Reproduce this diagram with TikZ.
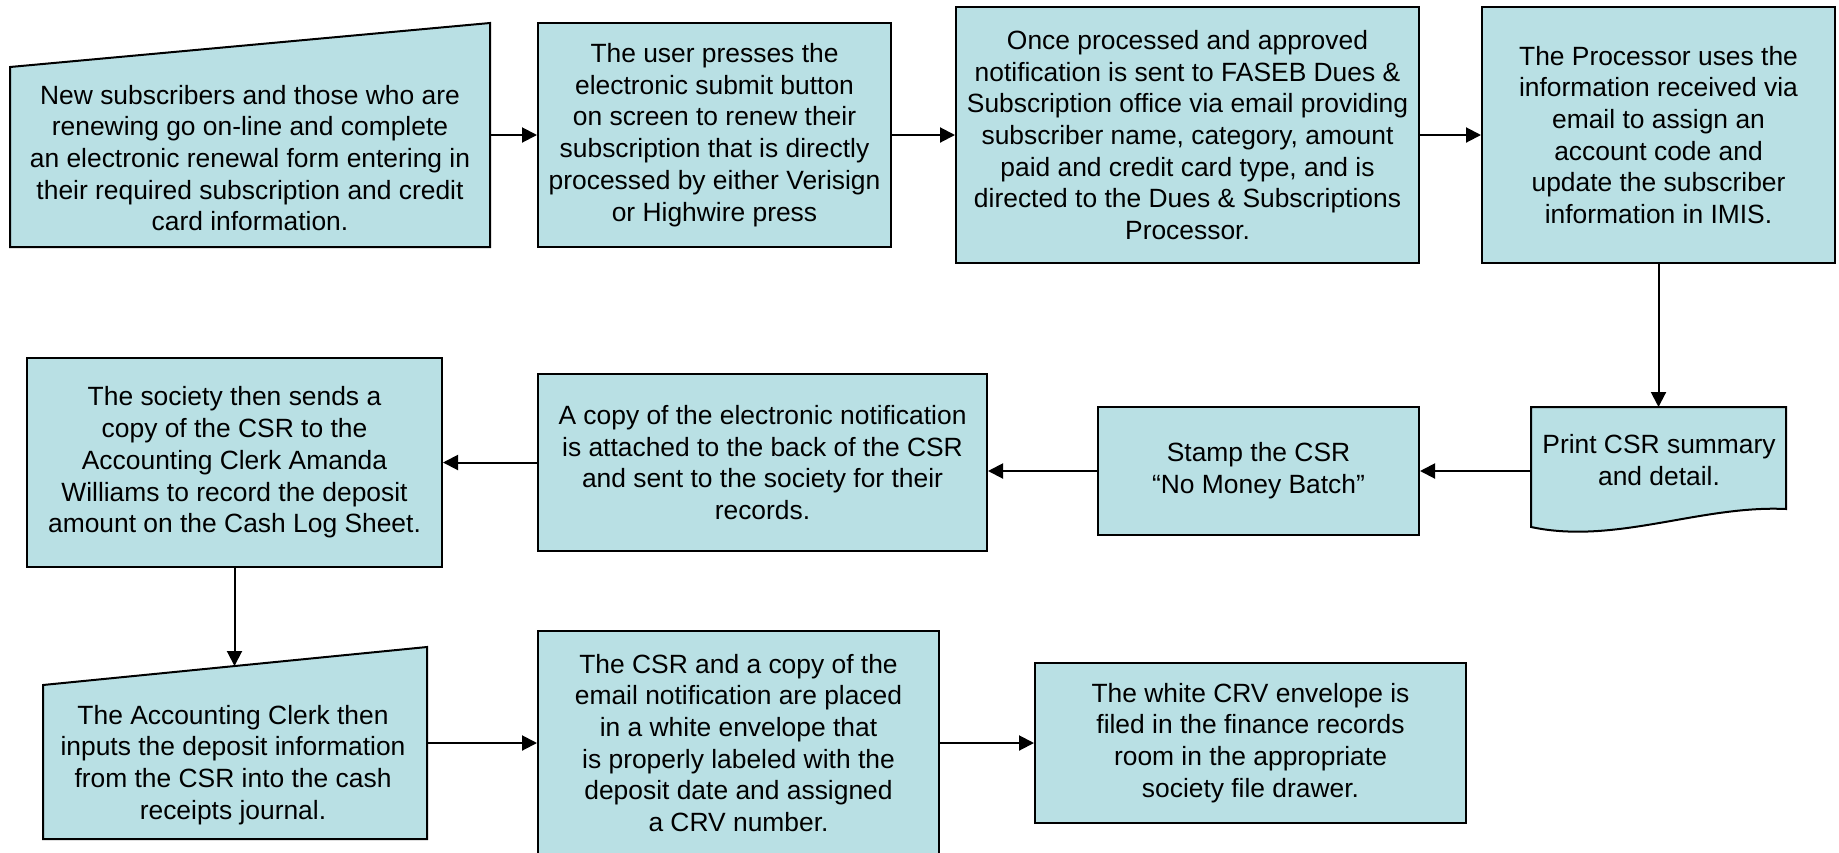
\documentclass[tikz,border=0pt]{standalone}
\usepackage{fontspec}
\setmainfont{Liberation Sans}
\usetikzlibrary{arrows.meta}
\definecolor{boxfill}{RGB}{185,224,228}
\begin{document}
\begin{tikzpicture}[x=1pt,y=-1pt,
  txtfont/.style={font=\fontsize{26.4}{31.7}\selectfont},
  box/.style={draw=black, fill=boxfill, line width=2pt, inner sep=0pt, align=center, txtfont},
  shapefill/.style={draw=black, fill=boxfill, line width=2pt, line join=miter},
  area/.style={inner sep=0pt, outer sep=0pt},
  txt/.style={inner sep=0pt, align=center, txtfont},
  arr/.style={line width=2pt, -{Triangle[length=15pt,width=15pt]}}]
\useasboundingbox (0,0) rectangle (1839,852);

% ---- row 1 ----
\draw[shapefill] (10,67) -- (490,23) -- (490,247) -- (10,247) -- cycle;
\node[area, minimum width=480pt, minimum height=224pt] (b1) at (250,135) {};
\node[txt] (b1t) at (250,158) {New subscribers and those who are\\renewing go on-line and complete\\an electronic renewal form entering in\\their required subscription and credit\\card information.};

\node[box, minimum width=353pt, minimum height=224pt] (b2) at (714.5,135) {The user presses the\\electronic submit button\\on screen to renew their\\subscription that is directly\\processed by either Verisign\\or Highwire press};

\node[box, minimum width=463pt, minimum height=256pt] (b3) at (1187.5,135) {Once processed and approved\\notification is sent to FASEB Dues \&\\Subscription office via email providing\\subscriber name, category, amount\\paid and credit card type, and is\\directed to the Dues \& Subscriptions\\Processor.};

\node[box, minimum width=353pt, minimum height=256pt] (b4) at (1658.5,135) {The Processor uses the\\information received via\\email to assign an\\account code and\\update the subscriber\\information in IMIS.};

% ---- row 2 ----
\draw[shapefill] (1531,407) -- (1786,407) -- (1786,509)
  .. controls (1700,505) and (1615,545) .. (1531,527) -- cycle;
\node[area, minimum width=255pt, minimum height=128pt] (print) at (1658.5,471) {};
\node[txt] (printt) at (1659,460) {Print CSR summary\\and detail.};

\node[box, minimum width=321pt, minimum height=128pt] (stamp) at (1258.5,471) {Stamp the CSR\\“No Money Batch”};

\node[box, minimum width=449pt, minimum height=177pt] (copy) at (762.5,462.5) {A copy of the electronic notification\\is attached to the back of the CSR\\and sent to the society for their\\records.};

\node[box, minimum width=415pt, minimum height=209pt] (society) at (234.5,462.5) {The society then sends a\\copy of the CSR to the\\Accounting Clerk Amanda\\Williams to record the deposit\\amount on the Cash Log Sheet.};

% ---- row 3 ----
\draw[shapefill] (43,685) -- (427,647) -- (427,839) -- (43,839) -- cycle;
\node[area, minimum width=384pt, minimum height=192pt] (clerk) at (235,743) {};
\coordinate (clerktop) at (234.5,666);
\node[txt] (clerkt) at (233,765) {The Accounting Clerk then\\inputs the deposit information\\from the CSR into the cash\\receipts journal.};

\begin{scope}
\clip (0,0) rectangle (1839,852);
\node[box, minimum width=401pt, minimum height=224pt] (csr) at (738.5,743) {The CSR and a copy of the\\email notification are placed\\in a white envelope that\\is properly labeled with the\\deposit date and assigned\\a CRV number.};
\end{scope}

\node[box, minimum width=431pt, minimum height=160pt] (white) at (1250.5,743) {The white CRV envelope is\\filed in the finance records\\room in the appropriate\\society file drawer.};

% ---- connectors ----
\draw[arr] (b1.east) -- (b2.west);
\draw[arr] (b2.east) -- (b3.west);
\draw[arr] (b3.east) -- (b4.west);
\draw[arr] (b4.south) -- (print.north);
\draw[arr] (print.west) -- (stamp.east);
\draw[arr] (stamp.west) -- (stamp.west -| copy.east);
\draw[arr] (copy.west) -- (society.east);
\draw[arr] (society.south) -- (clerktop);
\draw[arr] (clerk.east) -- (csr.west);
\draw[arr] (csr.east) -- (white.west);
\end{tikzpicture}
\end{document}
